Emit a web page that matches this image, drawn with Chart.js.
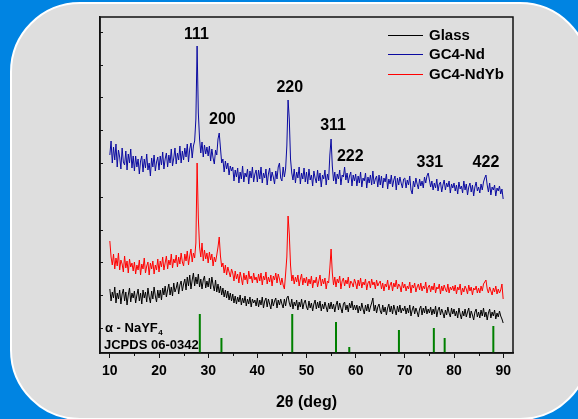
<!DOCTYPE html>
<html>
<head>
<meta charset="utf-8">
<script src="https://cdn.jsdelivr.net/npm/chart.js@4"></script>
<style>
  html, body { margin: 0; padding: 0; }
  body { width: 578px; height: 419px; overflow: hidden; background: rgb(0, 132, 226); position: relative; }
  #panel { position: absolute; left: 10px; top: 2px; width: 580px; height: 418px; box-sizing: border-box;
           border: 2px solid #fff; border-radius: 70px; background: #dedede; }
  #chart { position: absolute; left: 0; top: 0; }
</style>
</head>
<body>
<div id="panel"></div>
<canvas id="chart" width="578" height="419"></canvas>
<script>
// scan: 10..90 deg, 0.25 deg per point
const scanStart = 10;
const scanStep = 0.25;

const glass = [
  64, 52, 61, 55, 66, 50, 60, 54, 63, 49, 59, 64, 52, 61, 48, 58, 65, 51, 60, 55,
  62, 50, 58, 64, 52, 60, 49, 63, 55, 61, 51, 65, 56, 50, 62, 54, 66, 57, 51, 63,
  55, 63, 53, 65, 58, 67, 56, 63, 69, 58, 66, 57, 70, 61, 65, 71, 59, 68, 72, 62,
  69, 74, 63, 76, 67, 78, 64, 73, 80, 67, 76, 69, 79, 66, 74, 64, 73, 77, 65, 72,
  66, 75, 64, 76, 68, 62, 73, 61, 69, 60, 67, 58, 65, 56, 63, 55, 62, 53, 60, 52,
  59, 50, 57, 49, 56, 51, 58, 48, 55, 50, 57, 47, 54, 49, 56, 46, 54, 50, 53, 47,
  55, 46, 53, 48, 56, 45, 52, 55, 46, 54, 49, 44, 54, 47, 52, 55, 45, 53, 48, 54,
  49, 45, 54, 47, 55, 57, 50, 46, 54, 44, 51, 47, 53, 43, 51, 46, 54, 44, 50, 53,
  46, 43, 52, 45, 50, 42, 49, 53, 44, 51, 45, 52, 42, 49, 44, 51, 46, 41, 50, 44,
  51, 44, 49, 41, 48, 52, 43, 50, 45, 40, 49, 51, 43, 48, 41, 50, 45, 52, 43, 48,
  43, 48, 40, 47, 42, 50, 44, 39, 48, 42, 49, 41, 46, 50, 55, 42, 48, 40, 46, 49,
  42, 39, 48, 41, 46, 38, 45, 49, 41, 47, 39, 48, 43, 38, 47, 41, 48, 40, 45, 42,
  47, 39, 45, 40, 48, 37, 43, 47, 39, 45, 41, 36, 44, 47, 38, 45, 40, 47, 39, 44,
  40, 46, 38, 44, 39, 47, 36, 43, 46, 38, 44, 40, 35, 43, 38, 46, 40, 36, 45, 39,
  44, 37, 42, 35, 45, 39, 34, 42, 37, 44, 36, 41, 45, 35, 42, 38, 33, 41, 44, 36,
  41, 35, 43, 37, 45, 36, 41, 33, 40, 44, 35, 41, 37, 43, 34, 40, 36, 42, 37, 34, 30
];

const gc4Nd = [
  198, 212, 190, 206, 193, 209, 186, 203, 196, 184, 205, 191, 188, 202, 183, 199, 190, 204, 185, 197,
  182, 197, 186, 194, 179, 192, 197, 181, 194, 185, 199, 183, 190, 177, 195, 186, 198, 182, 191, 196,
  183, 197, 188, 201, 184, 194, 200, 186, 198, 190, 204, 187, 195, 205, 189, 200, 193, 207, 190, 202,
  193, 205, 196, 209, 191, 204, 210, 195, 207, 212, 234, 307, 240, 214, 200, 211, 196, 208, 199, 206,
  197, 207, 192, 204, 195, 189, 203, 198, 214, 220, 205, 190, 194, 181, 192, 184, 190, 178, 187, 182,
  186, 172, 183, 176, 185, 170, 181, 174, 187, 171, 180, 176, 184, 169, 182, 175, 186, 171, 179, 183,
  171, 183, 174, 186, 170, 180, 175, 184, 168, 179, 185, 172, 181, 176, 169, 182, 174, 186, 190, 175,
  172, 186, 176, 184, 207, 253, 234, 194, 180, 173, 184, 170, 181, 175, 186, 169, 180, 174, 185, 171,
  181, 169, 184, 173, 178, 167, 182, 175, 170, 183, 172, 180, 166, 178, 174, 183, 168, 179, 173, 198,
  214, 187, 172, 181, 169, 179, 174, 183, 168, 178, 176, 186, 173, 180, 170, 177, 181, 167, 178, 172,
  179, 167, 177, 170, 181, 166, 175, 172, 180, 165, 176, 170, 178, 168, 182, 169, 174, 177, 166, 178,
  168, 177, 165, 175, 171, 179, 164, 174, 169, 178, 166, 173, 177, 163, 175, 168, 176, 170, 165, 174,
  175, 165, 173, 168, 177, 163, 159, 172, 166, 175, 169, 164, 174, 167, 172, 165, 176, 170, 177, 180,
  173, 166, 172, 163, 170, 165, 174, 162, 169, 171, 161, 168, 173, 163, 170, 166, 172, 160, 169, 165,
  170, 162, 168, 159, 171, 164, 167, 160, 172, 163, 169, 158, 166, 170, 161, 168, 157, 166, 171, 162,
  166, 160, 169, 163, 171, 175, 178, 168, 161, 170, 158, 166, 163, 168, 157, 165, 162, 167, 159, 164, 154
];

const gc4NdYb = [
  112, 96, 88, 99, 84, 95, 87, 100, 83, 93, 89, 81, 97, 85, 92, 80, 94, 86, 90, 82,
  91, 79, 88, 83, 93, 78, 89, 84, 95, 80, 87, 91, 78, 90, 84, 92, 79, 88, 83, 94,
  81, 92, 86, 96, 83, 90, 97, 84, 93, 88, 99, 85, 94, 90, 98, 86, 96, 89, 100, 91,
  87, 99, 92, 102, 88, 97, 104, 91, 100, 95, 110, 190, 135, 106, 96, 110, 92, 103, 94, 100,
  90, 101, 93, 99, 87, 96, 91, 98, 106, 116, 97, 86, 90, 80, 88, 78, 86, 81, 76, 84,
  80, 72, 82, 74, 79, 70, 81, 75, 68, 80, 73, 78, 69, 82, 74, 77, 70, 80, 73, 76,
  70, 79, 72, 80, 68, 77, 73, 81, 69, 76, 71, 78, 67, 77, 73, 80, 70, 79, 74, 68,
  75, 68, 64, 79, 96, 137, 119, 88, 72, 78, 69, 76, 71, 78, 67, 74, 79, 68, 75, 70,
  76, 67, 74, 69, 77, 65, 73, 70, 76, 66, 72, 78, 67, 74, 69, 75, 64, 72, 70, 85,
  104, 80, 68, 76, 66, 74, 70, 77, 64, 72, 75, 67, 73, 69, 76, 65, 72, 70, 66, 74,
  70, 64, 73, 67, 75, 65, 71, 68, 74, 63, 70, 72, 65, 74, 68, 71, 64, 73, 67, 70,
  72, 64, 70, 62, 69, 66, 73, 63, 68, 71, 62, 70, 66, 73, 64, 69, 67, 61, 71, 65,
  69, 62, 67, 64, 71, 60, 68, 65, 70, 61, 66, 69, 63, 70, 62, 67, 64, 71, 60, 66,
  68, 61, 67, 63, 70, 60, 66, 64, 69, 59, 67, 62, 68, 64, 61, 69, 60, 66, 63, 67,
  62, 68, 59, 66, 63, 69, 58, 65, 61, 67, 64, 59, 68, 62, 66, 58, 65, 63, 67, 60,
  65, 60, 67, 62, 69, 71, 73, 64, 60, 66, 62, 58, 65, 61, 67, 59, 64, 60, 63, 69, 54
];

// alpha-NaYF4 reference lines (JCPDS 06-0342)
const refPos = [28.3, 32.7, 47.1, 56.0, 58.7, 68.8, 75.9, 78.1, 88.0];
const refHeight = [39, 15, 39, 31, 6, 23, 25, 15, 27];

const hklText = ['111', '200', '220', '311', '222', '331', '422'];
const hklAt = [[27.6, 318], [32.9, 233], [46.6, 265], [55.4, 227], [58.9, 196], [75.1, 190], [86.5, 190]];

const xMajor = [10, 20, 30, 40, 50, 60, 70, 80, 90];
const xMinor = [15, 25, 35, 45, 55, 65, 75, 85];
const yMarks = [25, 58, 91, 123, 156, 190, 223, 256, 288, 321];

const FONT = "'Liberation Sans', Arial, sans-serif";

function toPoints(vals) {
  return vals.map((v, i) => ({ x: scanStart + i * scanStep, y: v }));
}

const sticks = [];
refPos.forEach((p, i) => {
  sticks.push({ x: p, y: 0 }, { x: p, y: refHeight[i] }, { x: p, y: null });
});

const series = [
  { label: 'Glass', color: '#000000', vals: glass },
  { label: 'GC4-Nd', color: '#0a0aa0', vals: gc4Nd },
  { label: 'GC4-NdYb', color: '#ff0000', vals: gc4NdYb }
];

const decor = {
  id: 'decor',
  afterDraw(chart) {
    const c = chart.ctx, a = chart.chartArea;
    const xs = chart.scales.x, ys = chart.scales.y;
    c.save();
    // frame
    c.strokeStyle = '#111';
    c.lineWidth = 1.5;
    c.strokeRect(a.left, a.top, a.right - a.left, a.bottom - a.top);
    // minor x ticks
    c.lineWidth = 1;
    c.beginPath();
    xMinor.forEach(v => {
      const px = Math.round(xs.getPixelForValue(v)) + 0.5;
      c.moveTo(px, a.bottom); c.lineTo(px, a.bottom + 3);
    });
    // inward y ticks
    yMarks.forEach(v => {
      const py = Math.round(ys.getPixelForValue(v)) + 0.5;
      c.moveTo(a.left, py); c.lineTo(a.left + 3, py);
    });
    c.stroke();

    // hkl labels
    c.fillStyle = '#000';
    c.font = 'bold 16px ' + FONT;
    c.textAlign = 'center';
    c.textBaseline = 'middle';
    hklText.forEach((t, i) => {
      c.fillText(t, xs.getPixelForValue(hklAt[i][0]), ys.getPixelForValue(hklAt[i][1]));
    });

    // legend
    c.textAlign = 'left';
    c.font = 'bold 15px ' + FONT;
    series.forEach((s, i) => {
      const y = 35 + i * 19.3;
      c.strokeStyle = s.color;
      c.lineWidth = 1;
      c.beginPath();
      c.moveTo(388, Math.round(y) + 0.5); c.lineTo(423, Math.round(y) + 0.5);
      c.stroke();
      c.fillText(s.label, 429, y + 1);
    });

    // phase note
    c.textBaseline = 'alphabetic';
    c.font = 'bold 13px ' + FONT;
    const t1 = '\u03b1 - NaYF';
    c.fillText(t1, 105, 332);
    const w1 = c.measureText(t1).width;
    c.font = 'bold 8px ' + FONT;
    c.fillText('4', 105 + w1 + 0.5, 335);
    c.font = 'bold 13px ' + FONT;
    c.fillText('JCPDS 06-0342', 104, 349);
    c.restore();
  }
};

new Chart(document.getElementById('chart'), {
  type: 'line',
  data: {
    datasets: [
      { label: 'ref', data: sticks, borderColor: '#008000', borderWidth: 2, spanGaps: false, pointRadius: 0 },
      ...series.map(s => ({
        label: s.label, data: toPoints(s.vals), borderColor: s.color, borderWidth: 1, pointRadius: 0
      }))
    ]
  },
  options: {
    responsive: false,
    animation: false,
    layout: { padding: { top: 17, right: 65, left: 0, bottom: 0 } },
    plugins: { legend: { display: false }, tooltip: { enabled: false } },
    elements: { line: { tension: 0 } },
    scales: {
      x: {
        type: 'linear', min: 8, max: 92,
        afterBuildTicks: s => { s.ticks = xMajor.map(v => ({ value: v })); },
        afterFit: s => { s.height = 66; },
        ticks: { color: '#000', padding: 5, maxRotation: 0, autoSkip: false,
                 font: { family: FONT, size: 14, weight: 'bold' } },
        grid: { drawOnChartArea: false, tickLength: 5, tickColor: '#111', tickWidth: 1 },
        border: { color: '#111', width: 1.5 },
        title: { display: true, text: '2\u03b8 (deg)', color: '#000', padding: { top: 0, bottom: 7 },
                 font: { family: FONT, size: 16, weight: 'bold' } }
      },
      y: {
        min: 0, max: 336,
        afterFit: s => { s.width = 100; },
        ticks: { display: false },
        grid: { display: false },
        border: { color: '#111', width: 1.5 }
      }
    }
  },
  plugins: [decor]
});
</script>
</body>
</html>
